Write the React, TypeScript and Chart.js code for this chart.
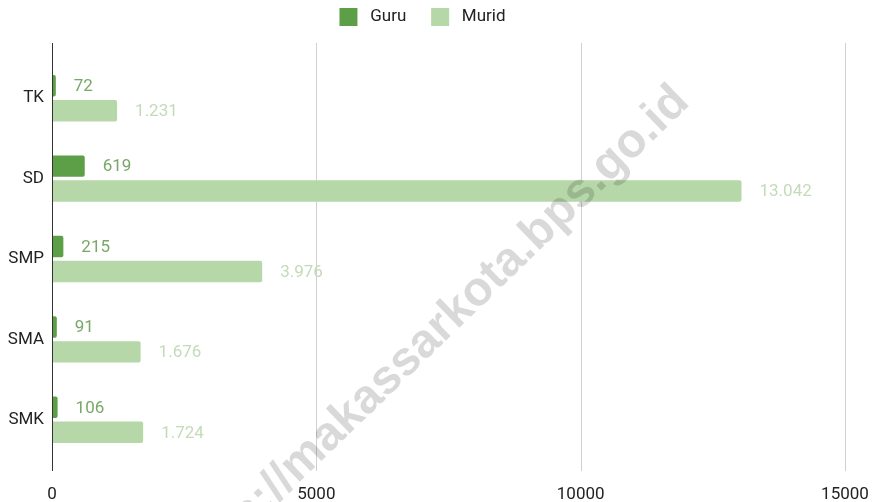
import React, { useEffect, useRef } from "react";
import { Chart, registerables } from "chart.js";

Chart.register(...registerables);

const categories = ["TK", "SD", "SMP", "SMA", "SMK"];
const guruValues = [72, 619, 215, 91, 106];
const muridValues = [1231, 13042, 3976, 1676, 1724];
const xTicks = [0, 5000, 10000, 15000];
const seriesNames = ["Guru", "Murid"];
const watermarkText = "https://makassarkota.bps.go.id";

const GURU_COLOR = "#5c9f47";
const MURID_COLOR = "#b6d7a8";
const GURU_LABEL = "#7aa767";
const MURID_LABEL = "#c3dbb9";
const FONT = "Roboto, 'Noto Sans', sans-serif";

const fmt = (v: number) => v.toLocaleString("de-DE");

const gridPlugin = {
  id: "extendedGrid",
  beforeDatasetsDraw(chart: any) {
    const { ctx, chartArea, scales } = chart;
    const x = scales.x;
    const top = chartArea.top - 15;
    const bottom = chartArea.bottom + 11;
    ctx.save();
    ctx.lineWidth = 1;
    xTicks.forEach((t) => {
      if (t === 0) return;
      const px = Math.round(x.getPixelForValue(t)) + 0.5;
      ctx.strokeStyle = "#d0d0d0";
      ctx.beginPath();
      ctx.moveTo(px, top);
      ctx.lineTo(px, bottom);
      ctx.stroke();
    });
    ctx.restore();
  },
  afterDatasetsDraw(chart: any) {
    const { ctx, chartArea, scales } = chart;
    const x = scales.x;
    const top = chartArea.top - 15;
    const bottom = chartArea.bottom + 11;
    const px = Math.round(x.getPixelForValue(0)) + 0.5;
    ctx.save();
    ctx.strokeStyle = "#333333";
    ctx.lineWidth = 1;
    ctx.beginPath();
    ctx.moveTo(px, top);
    ctx.lineTo(px, bottom);
    ctx.stroke();

    // value labels
    ctx.font = `17px ${FONT}`;
    ctx.textBaseline = "middle";
    ctx.textAlign = "left";
    chart.data.datasets.forEach((ds: any, di: number) => {
      const meta = chart.getDatasetMeta(di);
      meta.data.forEach((bar: any, i: number) => {
        const v = ds.data[i];
        ctx.fillStyle = di === 0 ? GURU_LABEL : MURID_LABEL;
        ctx.fillText(fmt(v), bar.x + 18, bar.y + 1);
      });
    });
    ctx.restore();
  },
  afterDraw(chart: any) {
    const { ctx } = chart;
    ctx.save();
    ctx.translate(691, 104);
    ctx.rotate((-44 * Math.PI) / 180);
    ctx.font = `bold 48px 'Liberation Sans', Arial, sans-serif`;
    ctx.fillStyle = "rgba(0,0,0,0.15)";
    ctx.textAlign = "right";
    ctx.textBaseline = "alphabetic";
    ctx.fillText(watermarkText, 0, 0);
    ctx.restore();
  },
};

export default function App() {
  const ref = useRef<HTMLCanvasElement | null>(null);
  useEffect(() => {
    if (!ref.current) return;
    const chart = new Chart(ref.current, {
      type: "bar",
      data: {
        labels: categories,
        datasets: [
          {
            label: seriesNames[0],
            data: guruValues,
            backgroundColor: GURU_COLOR,
            borderRadius: 2,
            borderSkipped: "start",
            categoryPercentage: 0.62,
            barPercentage: 0.86,
          },
          {
            label: seriesNames[1],
            data: muridValues,
            backgroundColor: MURID_COLOR,
            borderRadius: 2,
            borderSkipped: "start",
            categoryPercentage: 0.62,
            barPercentage: 0.86,
          },
        ],
      },
      options: {
        indexAxis: "y",
        animation: false,
        responsive: false,
        maintainAspectRatio: false,
        layout: { padding: { left: 0, right: 33, top: 0, bottom: 0 } },
        plugins: {
          legend: {
            display: true,
            position: "top",
            align: "center",
            weight: 1000,
            labels: {
              boxWidth: 18,
              boxHeight: 18,
              padding: 8,
              color: "#222222",
              font: { family: FONT, size: 17 },
              generateLabels: (c: any) => {
                const items = Chart.defaults.plugins.legend.labels.generateLabels(c);
                return items.map((it: any, i: number) => ({
                  ...it,
                  lineWidth: 0,
                  text: i === 0 ? " " + it.text + "    " : " " + it.text,
                }));
              },
            },
          },
          title: {
            display: true,
            text: "",
            weight: 100,
            font: { size: 10, lineHeight: 1 },
            padding: { top: 0, bottom: 12 },
          },
          tooltip: { enabled: false },
        },
        scales: {
          x: {
            type: "linear",
            min: 0,
            max: 15000,
            afterBuildTicks: (s: any) => {
              s.ticks = xTicks.map((v) => ({ value: v }));
            },
            afterFit: (s: any) => {
              s.height = 42;
              s.paddingLeft = 0;
              s.paddingRight = 0;
            },
            grid: { display: false },
            border: { display: false },
            ticks: {
              color: "#222222",
              padding: 17,
              font: { family: FONT, size: 17 },
              maxRotation: 0,
              callback: (v: any) => String(v),
            },
          },
          y: {
            type: "category",
            afterFit: (s: any) => {
              s.width = 52;
            },
            grid: { display: false, drawTicks: false },
            border: { display: false },
            ticks: {
              color: "#222222",
              padding: 8,
              font: { family: FONT, size: 17 },
            },
          },
        },
      },
      plugins: [gridPlugin],
    });
    return () => chart.destroy();
  }, []);
  return (
    <div style={{ position: "fixed", left: 0, top: 0, width: 878, height: 502, background: "#fff" }}>
      <canvas ref={ref} width={878} height={502} style={{ width: 878, height: 502 }} />
    </div>
  );
}
